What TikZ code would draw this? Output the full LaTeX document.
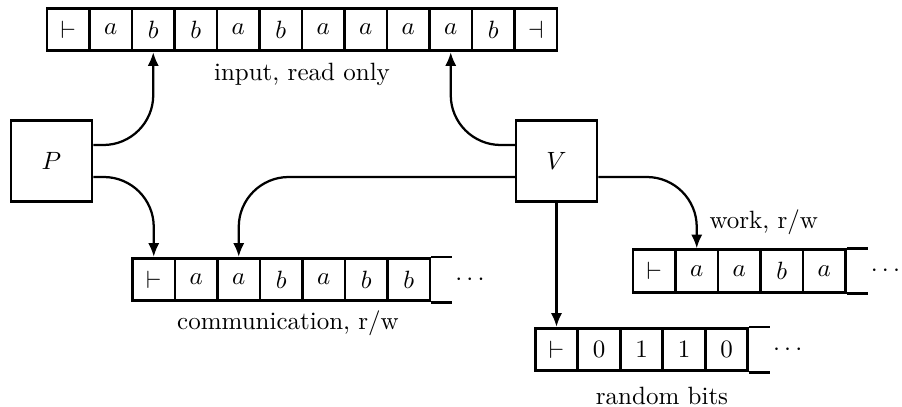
\documentclass[tikz,border=0pt]{standalone}
\usetikzlibrary{arrows.meta,positioning}

\def\cellsize{42.5}

\begin{document}
\begin{tikzpicture}[x=0.4pt,y=-0.4pt,>={Latex[length=5.5pt,width=4.5pt]}]
  \tikzstyle{cell}=[draw,line width=1.1pt,minimum size=17pt,inner sep=0pt]
  \tikzstyle{machine}=[draw,line width=1pt,minimum size=32.4pt,inner sep=0pt]
  \tikzstyle{link}=[->,line width=0.9pt,rounded corners=20pt]
  \tikzstyle{annot}=[inner sep=0pt]

  \useasboundingbox (0,0) rectangle (902,407);

  % Draw the input tape
  \foreach \name / \sym in {1/\vdash,2/a,3/b,4/b,5/a,6/b,7/a,8/a,9/a,10/a,11/b,12/\dashv}
  \node[cell] (in-\name) at (68.25+\cellsize*\name-\cellsize,29.5) {$\sym$};

  \node[annot] (in-lbl) at (302,74) {input, read only};

  % Draw the communication tape
  \foreach \name / \sym in {1/\vdash,2/a,3/a,4/b,5/a,6/b,7/b}
  \node[cell] (com-\name) at (153.75+\cellsize*\name-\cellsize,279.5) {$\sym$};

  \node[annot] (com-lbl) at (288,323) {communication, r/w};

  % Draw the work tape
  \foreach \name / \sym in {1/\vdash,2/a,3/a,4/b,5/a}
  \node[cell] (wrk-\name) at (654.25+\cellsize*\name-\cellsize,271) {$\sym$};

  \node[annot, anchor=west] (wrk-lbl) at (709,222) {work, r/w};

  % Draw the random tape
  \foreach \name / \sym in {1/\vdash,2/0,3/1,4/1,5/0}
  \node[cell] (rnd-\name) at (556.5+\cellsize*\name-\cellsize,349.5) {$\sym$};

  \node[annot] (rnd-lbl) at (662,396) {random bits};

  % Open ends of the tapes
  \foreach \tape / \last in {com/7,wrk/5,rnd/5} {
    \draw[line width=1.1pt] (\tape-\last.north east) -- ++(21,0);
    \draw[line width=1.1pt] (\tape-\last.south east) -- ++(21,0);
    \coordinate (\tape-end) at ([xshift=8.4pt]\tape-\last.east);
    \node[annot, right=1pt of \tape-end] (\tape-dots) {$\cdots$};
  }

  % Prover and verifier
  \node[machine] (P) at (51.5,161) {$P$};
  \node[machine] (V) at (556.5,161) {$V$};

  % Connect machines to tapes
  \draw[link] ([yshift=6.4pt]P.east) -| (in-3.south);
  \draw[link] ([yshift=-6.4pt]P.east) -| (com-1.north);
  \draw[link] ([yshift=6.4pt]V.west) -| (in-10.south);
  \draw[link] ([yshift=-6.4pt]V.west) -| (com-3.north);
  \draw[link] ([yshift=-6.4pt]V.east) -| (wrk-2.north);
  \draw[link] (V.south) -- (V.south |- rnd-1.north);
\end{tikzpicture}
\end{document}
